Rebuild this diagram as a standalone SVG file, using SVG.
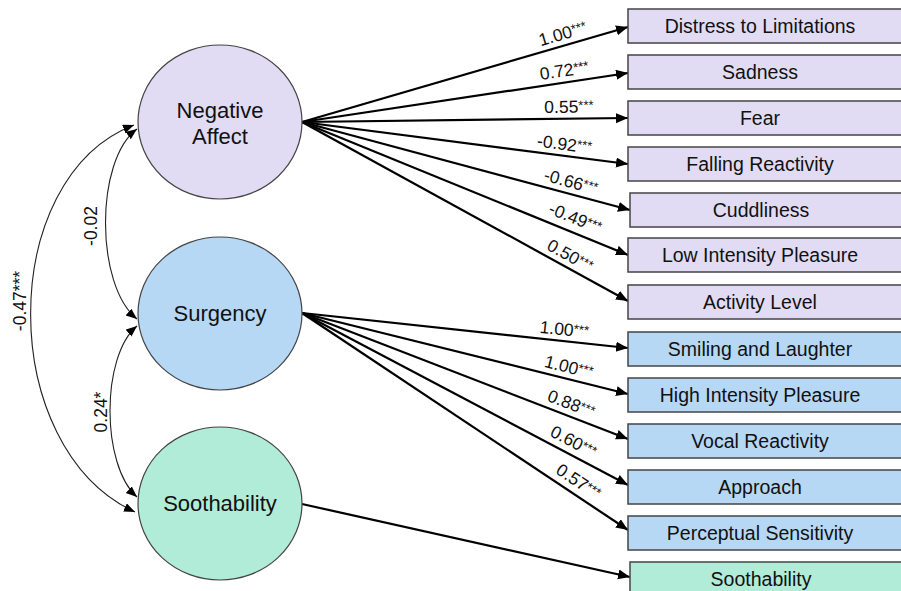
<svg xmlns="http://www.w3.org/2000/svg" width="901" height="591" viewBox="0 0 901 591">
<defs>
<marker id="ah" markerUnits="userSpaceOnUse" markerWidth="13" markerHeight="11" refX="12" refY="5" orient="auto"><path d="M0,0 L12,5 L0,10 z" fill="#000"/></marker>
<marker id="ahs" markerUnits="userSpaceOnUse" markerWidth="12" markerHeight="10" refX="11" refY="4.5" orient="auto-start-reverse"><path d="M0,0 L11,4.5 L0,9 z" fill="#000"/></marker>
</defs>
<style>
text{font-family:"Liberation Sans",Arial,sans-serif;fill:#111}
.na{fill:#e1dcf4}.su{fill:#b6d8f5}.so{fill:#b0ecd7}
.lat{stroke:#444;stroke-width:1.2}
.box{stroke:#444;stroke-width:1.5}
.bt{font-size:19.5px;text-anchor:middle}
.lt{font-size:22px;text-anchor:middle}
.path{stroke:#000;stroke-width:2.2;fill:none;marker-end:url(#ah)}
.cov{stroke:#222;stroke-width:1.1;fill:none;marker-start:url(#ahs);marker-end:url(#ahs)}
.lab{font-size:17.5px;text-anchor:middle}
.st{font-size:13px}
</style>
<g id="connectors">
<line class="path" x1="302" y1="122" x2="628" y2="27"/>
<line class="path" x1="302" y1="122" x2="628" y2="73"/>
<line class="path" x1="302" y1="122" x2="628" y2="118"/>
<line class="path" x1="302" y1="122" x2="628" y2="164"/>
<line class="path" x1="302" y1="122" x2="630" y2="210"/>
<line class="path" x1="302" y1="122" x2="628" y2="255"/>
<line class="path" x1="302" y1="122" x2="628" y2="301"/>
<line class="path" x1="302" y1="313" x2="628" y2="348"/>
<line class="path" x1="302" y1="313" x2="628" y2="394"/>
<line class="path" x1="302" y1="313" x2="628" y2="439"/>
<line class="path" x1="302" y1="313" x2="628" y2="485"/>
<line class="path" x1="302" y1="313" x2="628" y2="530"/>
<line class="path" x1="302" y1="504" x2="630" y2="577"/>
<path class="cov" d="M137,129 C95,160 95,285 137,319"/>
<path class="cov" d="M137,326 C101,356 101,465 137,497"/>
<path class="cov" d="M134,125 C-4,178 -4,448 135,512"/>
<g id="labels">
<text class="lab" transform="translate(566,45.1) rotate(-16.25)" y="-6">1.00<tspan class="st" dy="-3">***</tspan></text>
<text class="lab" transform="translate(566,82.3) rotate(-8.55)" y="-6">0.72<tspan class="st" dy="-3">***</tspan></text>
<text class="lab" transform="translate(569,118.8) rotate(-0.7)" y="-6">0.55<tspan class="st" dy="-3">***</tspan></text>
<text class="lab" transform="translate(563,156) rotate(7.34)" y="-6">-0.92<tspan class="st" dy="-3">***</tspan></text>
<text class="lab" transform="translate(568,193.3) rotate(15.1)" y="-6">-0.66<tspan class="st" dy="-3">***</tspan></text>
<text class="lab" transform="translate(570,231) rotate(22.2)" y="-8">-0.49<tspan class="st" dy="-3">***</tspan></text>
<text class="lab" transform="translate(564,267) rotate(28.77)" y="-7">0.50<tspan class="st" dy="-3">***</tspan></text>
<text class="lab" transform="translate(563,341.3) rotate(6.13)" y="-6">1.00<tspan class="st" dy="-3">***</tspan></text>
<text class="lab" transform="translate(566,378.6) rotate(13.95)" y="-6">1.00<tspan class="st" dy="-3">***</tspan></text>
<text class="lab" transform="translate(567,415) rotate(21.13)" y="-6">0.88<tspan class="st" dy="-3">***</tspan></text>
<text class="lab" transform="translate(568,452.3) rotate(27.82)" y="-6">0.60<tspan class="st" dy="-3">***</tspan></text>
<text class="lab" transform="translate(572,491.5) rotate(33.64)" y="-6">0.57<tspan class="st" dy="-3">***</tspan></text>
<text class="lab" transform="translate(97,226) rotate(-90)">-0.02</text>
<text class="lab" transform="translate(107,412) rotate(-90)">0.24*</text>
<text class="lab" transform="translate(26,301) rotate(-90)">-0.47***</text>
</g>
</g>
<g id="negative-affect"><ellipse class="na lat" cx="220" cy="122" rx="82" ry="77"/><text class="lt" x="220" y="118">Negative</text><text class="lt" x="220" y="144">Affect</text></g>
<g id="surgency"><ellipse class="su lat" cx="220" cy="313.5" rx="82" ry="76.5"/><text class="lt" x="220" y="321">Surgency</text></g>
<g id="soothability"><ellipse class="so lat" cx="220" cy="503.5" rx="82" ry="76.5"/><text class="lt" x="220" y="511">Soothability</text></g>
<g id="box-distress"><rect class="na box" x="628" y="9" width="290" height="34"/><text class="bt" x="760" y="33">Distress to Limitations</text></g>
<g id="box-sadness"><rect class="na box" x="628" y="55" width="290" height="34"/><text class="bt" x="760" y="79">Sadness</text></g>
<g id="box-fear"><rect class="na box" x="628" y="101" width="290" height="34"/><text class="bt" x="760" y="125">Fear</text></g>
<g id="box-falling"><rect class="na box" x="628" y="147" width="290" height="34"/><text class="bt" x="760" y="171">Falling Reactivity</text></g>
<g id="box-cuddliness"><rect class="na box" x="630" y="193" width="290" height="34"/><text class="bt" x="761" y="217">Cuddliness</text></g>
<g id="box-lip"><rect class="na box" x="628" y="238" width="290" height="34"/><text class="bt" x="760" y="262">Low Intensity Pleasure</text></g>
<g id="box-activity"><rect class="na box" x="628" y="285" width="290" height="34"/><text class="bt" x="760" y="309">Activity Level</text></g>
<g id="box-smiling"><rect class="su box" x="628" y="332" width="290" height="34"/><text class="bt" x="760" y="356">Smiling and Laughter</text></g>
<g id="box-hip"><rect class="su box" x="628" y="378" width="290" height="34"/><text class="bt" x="760" y="402">High Intensity Pleasure</text></g>
<g id="box-vocal"><rect class="su box" x="628" y="424" width="290" height="34"/><text class="bt" x="760" y="448">Vocal Reactivity</text></g>
<g id="box-approach"><rect class="su box" x="628" y="470" width="290" height="34"/><text class="bt" x="760" y="494">Approach</text></g>
<g id="box-perceptual"><rect class="su box" x="628" y="516" width="290" height="34"/><text class="bt" x="760" y="540">Perceptual Sensitivity</text></g>
<g id="box-soothability"><rect class="so box" x="630" y="562" width="290" height="34"/><text class="bt" x="761" y="586">Soothability</text></g>
</svg>
